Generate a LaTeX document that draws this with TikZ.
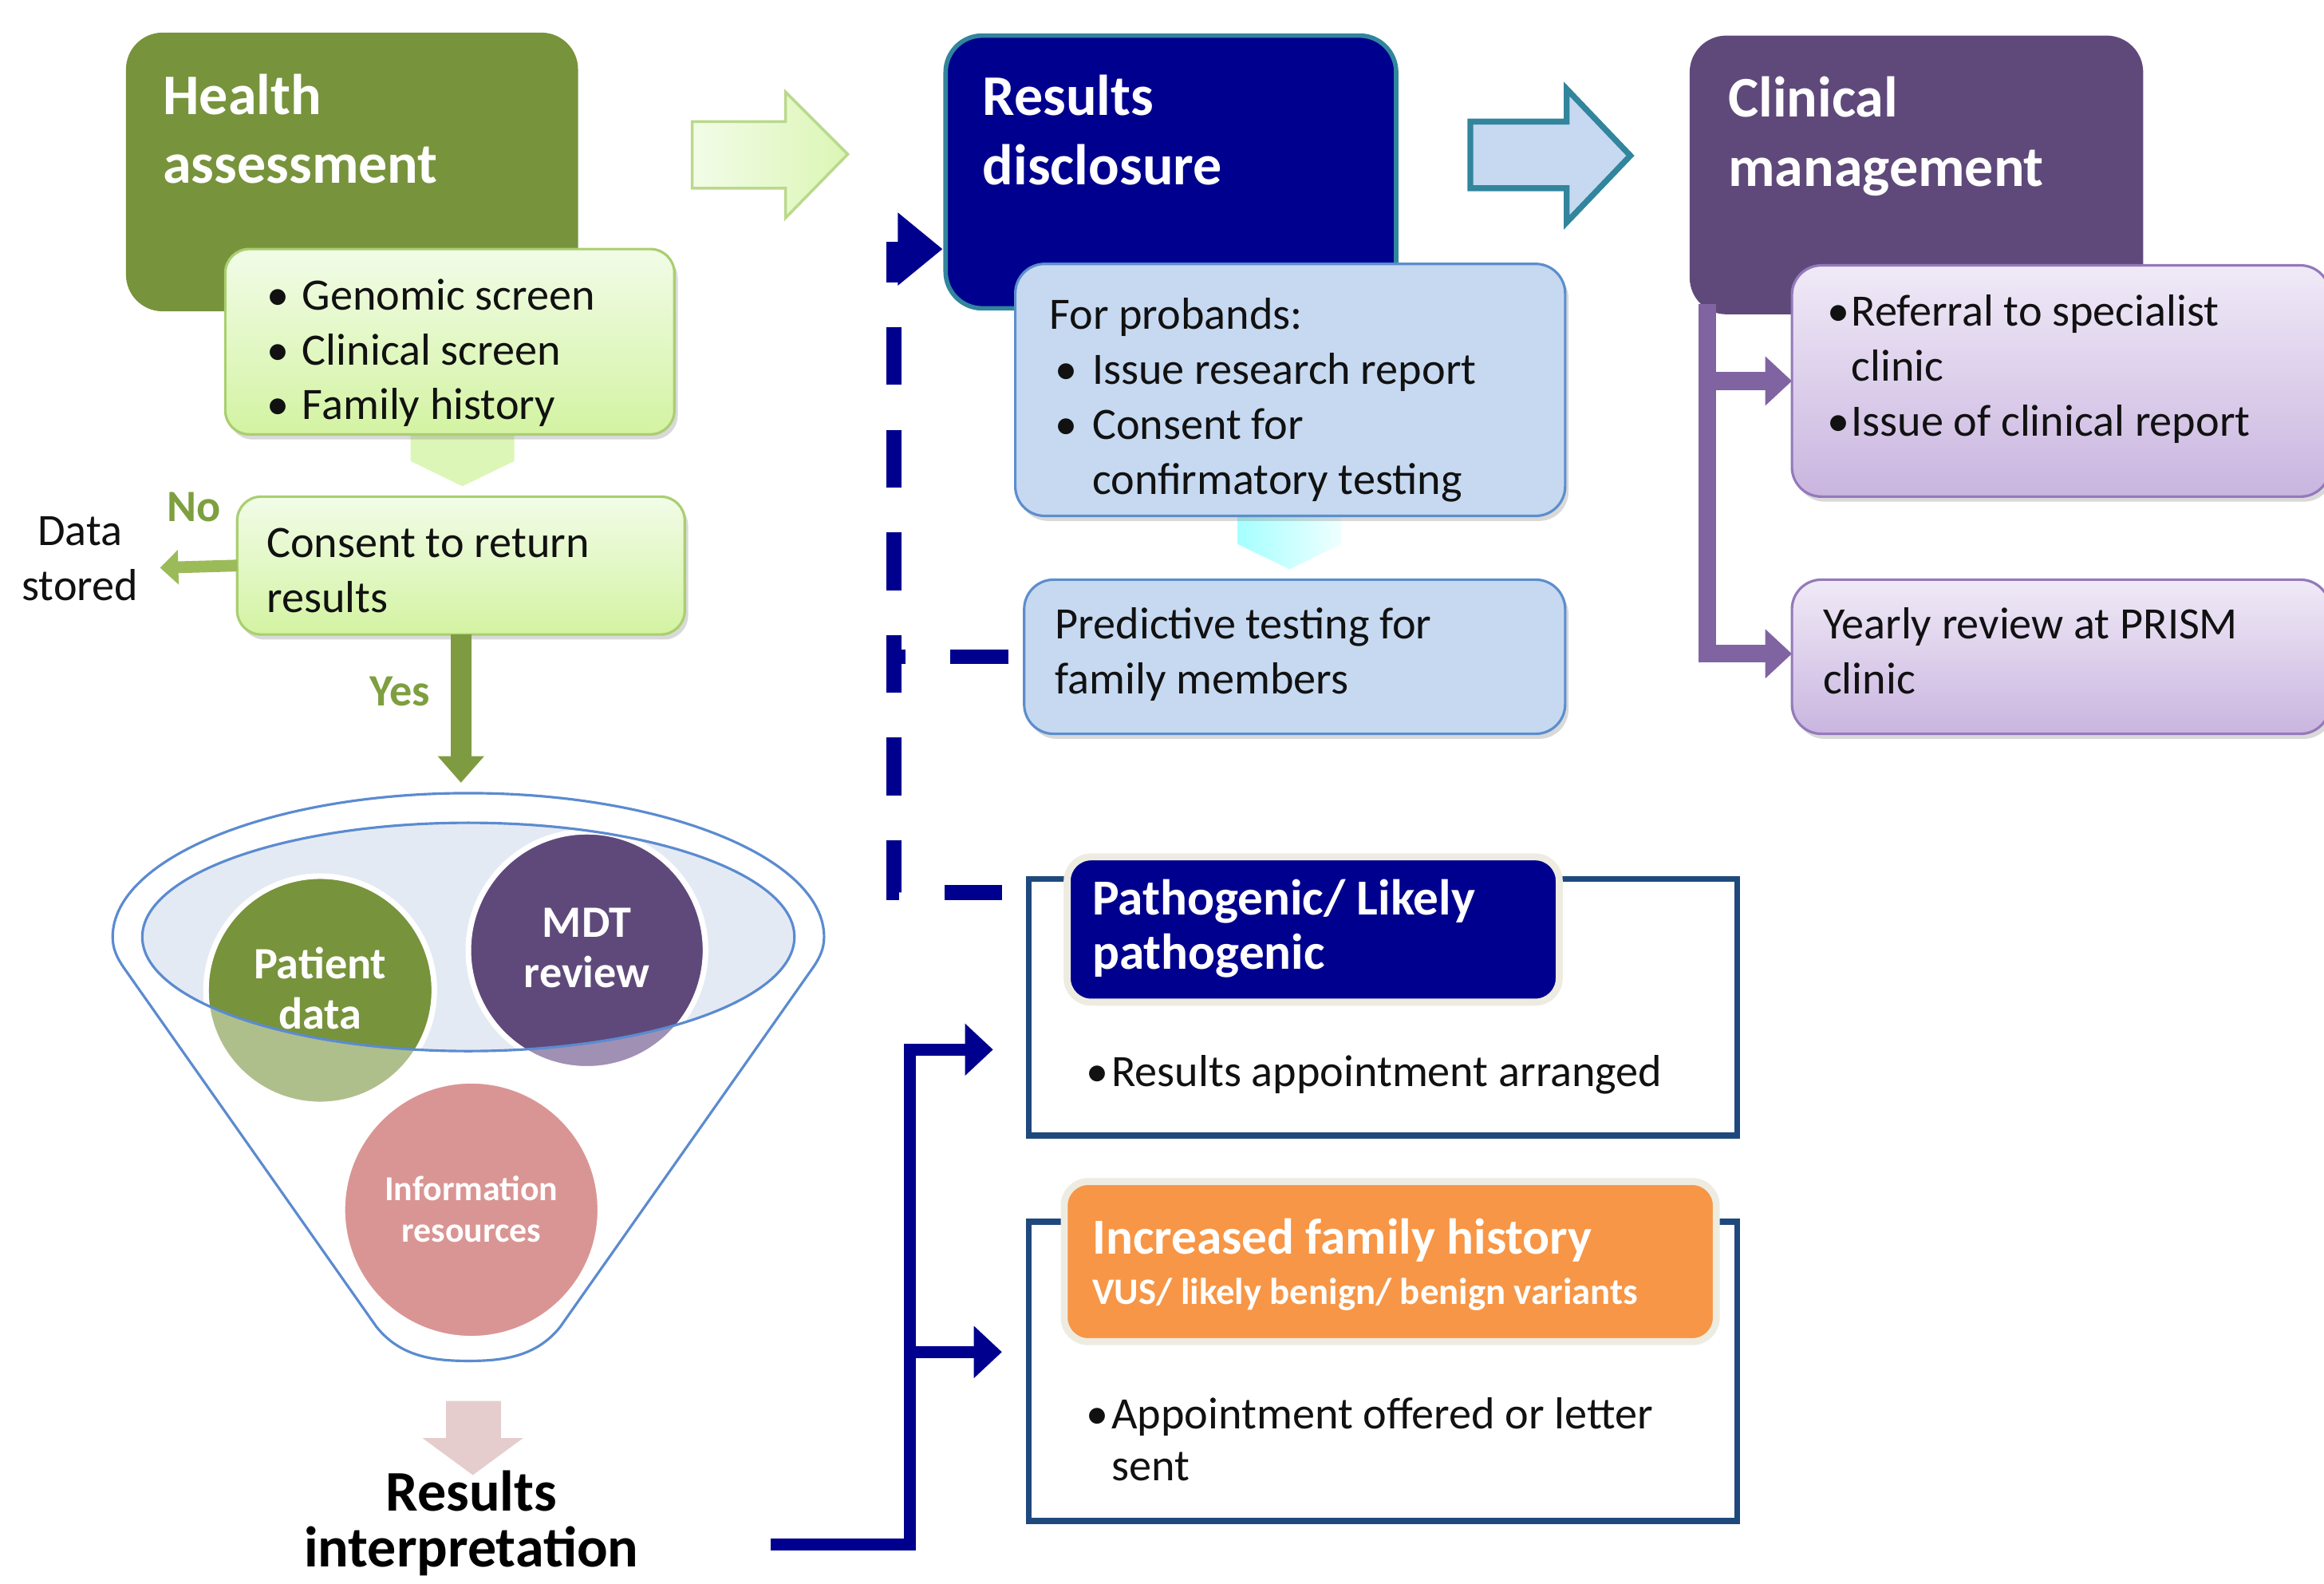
\documentclass[tikz,border=0pt]{standalone}
\usepackage{fontspec}
\setmainfont{Carlito}
\usetikzlibrary{arrows.meta,shadows}
\definecolor{olive}{HTML}{77933C}
\definecolor{olivelt}{HTML}{AEBF8C}
\definecolor{navy}{HTML}{00008E}
\definecolor{tealb}{HTML}{31859C}
\definecolor{purp}{HTML}{5F497A}
\definecolor{purplt}{HTML}{A090B4}
\definecolor{pconc}{HTML}{8064A2}
\definecolor{pbord}{HTML}{9479BA}
\definecolor{ptop}{HTML}{F0EAF7}
\definecolor{pbot}{HTML}{C9B5DF}
\definecolor{bfill}{HTML}{C6D9F1}
\definecolor{bbord}{HTML}{5C8ECD}
\definecolor{gtop}{HTML}{F2FCE8}
\definecolor{gbot}{HTML}{D3F3A2}
\definecolor{gbord}{HTML}{A9CF6F}
\definecolor{garr}{HTML}{9BBB59}
\definecolor{gtxt}{HTML}{7E9F3F}
\definecolor{orng}{HTML}{F79646}
\definecolor{outl}{HTML}{1F497D}
\definecolor{beig}{HTML}{EEECE1}
\definecolor{pink}{HTML}{D99594}
\definecolor{pinklt}{HTML}{E6CDCD}
\definecolor{fblue}{HTML}{5B8BD0}
\definecolor{ellf}{HTML}{E4EAF4}
\definecolor{txtc}{HTML}{111111}
\newcommand\tlines[1]{\begin{tabular}[t]{@{}l@{}}#1\end{tabular}}
\newcommand\tcent[1]{\begin{tabular}[t]{@{}c@{}}#1\end{tabular}}
\newcommand\mybul[2]{\makebox[#1][l]{\textbullet}#2}
\def\uu{0.018578cm}
\begin{document}
\begin{tikzpicture}[x=0.018578cm,y=-0.018578cm,
  txt/.style={inner sep=0pt, outer sep=0pt, anchor=base west, text=txtc, font=\fontsize{16}{19.6}\selectfont},
  ctxt/.style={txt, anchor=base},
  ttl/.style={txt, text=white, font=\bfseries\fontsize{20.5}{24.6}\selectfont},
  bigbox/.style={rounded corners=0.46cm, inner sep=0pt, outer sep=0pt},
  shadowed/.style={drop shadow={shadow xshift=1.2pt, shadow yshift=-1.8pt, opacity=0.3}},
  gbox/.style={draw=gbord, line width=0.9pt, rounded corners=0.3cm, top color=gtop, bottom color=gbot, inner sep=0pt, outer sep=0pt, shadowed},
  bbox/.style={draw=bbord, line width=0.9pt, rounded corners=0.37cm, fill=bfill, inner sep=0pt, outer sep=0pt, shadowed},
  pbox/.style={draw=pbord, line width=0.9pt, rounded corners=0.37cm, top color=ptop, bottom color=pbot, inner sep=0pt, outer sep=0pt, shadowed},
  obox/.style={draw=outl, line width=2.1pt, fill=white, inner sep=0pt, outer sep=0pt},
  hbox/.style={draw=beig, line width=2.5pt, rounded corners=0.3cm, inner sep=0pt, outer sep=0pt},
  circ/.style={circle, draw=white, line width=2pt, inner sep=0pt, outer sep=0pt},
  dnav/.style={draw=navy, line width=5.3pt, dash pattern=on 20.6pt off 16pt, -{Triangle[length=16pt,width=25pt]}},
  solnav/.style={draw=navy, line width=4.2pt, line join=miter, -{Triangle[length=10pt,width=18pt]}},
  pconn/.style={draw=pconc, line width=6.3pt, line join=miter, -{Triangle[length=9.5pt,width=17pt]}},
  garrow/.style={draw=garr, line width=4.2pt, -{Triangle[length=6.5pt,width=12pt]}},
  yarrow/.style={draw=olive!80!garr, line width=7.4pt, -{Triangle[length=9.5pt,width=16pt]}}
]
\useasboundingbox (0,0) rectangle (1568,1068);

% ---------- funnel ----------
\filldraw[fill=white, draw=fblue, line width=0.9pt]
  (76,632) .. controls (76,579) and (183,535) .. (316,535)
  .. controls (449,535) and (556,579) .. (556,632)
  .. controls (556,640) and (553,646) .. (549,652) -- (378,895)
  .. controls (362,915) and (340,918) .. (316,918)
  .. controls (292,918) and (270,915) .. (254,895) -- (83,652)
  .. controls (79,646) and (76,640) .. (76,632) -- cycle;
\fill[ellf] (316,632) ellipse [x radius=220, y radius=77];
\node[circ, fill=olivelt, minimum size=154*\uu] (pd) at (216,668) {};
\node[circ, fill=purplt, minimum size=160*\uu] (mdt) at (396,641) {};
\begin{scope}
  \clip (316,632) ellipse [x radius=220, y radius=77];
  \fill[olive] (pd.center) circle [radius=75];
  \fill[purp] (mdt.center) circle [radius=78];
\end{scope}
\draw[fblue, line width=0.9pt] (316,632) ellipse [x radius=220, y radius=77];
\node[circ, fill=pink, minimum size=174*\uu] (info) at (318,816) {};
\node[ctxt, text=white, font=\bfseries\fontsize{16}{18}\selectfont] (tpd) at (216,660) {\tcent{Patient\\data}};
\node[ctxt, text=white, font=\bfseries\fontsize{16}{18}\selectfont] (tmdt) at (396,632) {\tcent{MDT\\review}};
\node[ctxt, text=white, font=\bfseries\fontsize{12.5}{14.8}\selectfont] (tinfo) at (318,810) {\tcent{Information\\resources}};

% pink arrow
\fill[pinklt] (301,945) -- (338,945) -- (338,970) -- (353,970) -- (319,995) -- (285,970) -- (301,970) -- cycle;
\node[ctxt, text=black, font=\bfseries\fontsize{20.5}{18.5}\selectfont] (tri) at (318,1019) {\tcent{Results\\interpretation}};

% ---------- health assessment ----------
\node[bigbox, fill=olive, minimum width=305*\uu, minimum height=188*\uu] (health) at (237.5,116) {};
\node[ttl] (thealth) at (110,77) {\tlines{Health\\assessment}};
\fill[gbot!70!gtop] (277,288) -- (277,311) -- (312,328) -- (347,311) -- (347,288) -- cycle;
\node[gbox, minimum width=303*\uu, minimum height=125*\uu] (glist) at (303.5,230.5) {};
\node[txt] (tglist) at (180,209) {\tlines{\mybul{12.7pt}{Genomic screen}\\\mybul{12.7pt}{Clinical screen}\\\mybul{12.7pt}{Family history}}};
\node[gbox, minimum width=302*\uu, minimum height=93*\uu] (consent) at (311,381.5) {};
\node[txt] (tconsent) at (180,376) {\tlines{Consent to return\\results}};
\node[ctxt] (tds) at (54,368) {\tcent{Data\\stored}};
\node[ctxt, text=gtxt, font=\bfseries\fontsize{16}{19.6}\selectfont] (tno) at (131,352) {No};
\node[ctxt, text=gtxt, font=\bfseries\fontsize{16}{19.6}\selectfont] (tyes) at (270,476) {Yes};
\coordinate (noend) at (108,383);
\coordinate (yesend) at (311,528);
\draw[garrow] (consent.west) -- (noend);
\draw[yarrow] (consent.south) -- (yesend);

% big green arrow
\shadedraw[left color=gtop, right color=gbot!80!white, draw=gbord!80!white, line width=1pt]
  (467,82) -- (530,82) -- (530,62) -- (572,104) -- (530,147) -- (530,127) -- (467,127) -- cycle;

% ---------- results disclosure ----------
\node[bigbox, fill=navy, draw=tealb, line width=1.6pt, minimum width=304*\uu, minimum height=184*\uu] (rdisc) at (790,116) {};
\node[ttl] (trdisc) at (663,78) {\tlines{Results\\disclosure}};
\shade[left color=cyan!35, right color=cyan!6] (835,343) -- (835,367) -- (870,384) -- (905,367) -- (905,343) -- cycle;
\node[bbox, minimum width=371*\uu, minimum height=170*\uu] (blist) at (870.5,263) {};
\node[txt] (tblist) at (708,222) {\tlines{For probands:\\\hspace{2pt}\mybul{13.3pt}{Issue research report}\\\hspace{2pt}\mybul{13.3pt}{Consent for}\\\hspace{15.3pt}confirmatory testing}};
\node[bbox, minimum width=365*\uu, minimum height=104*\uu] (pred) at (873.5,443) {};
\node[txt] (tpred) at (712,431) {\tlines{Predictive testing for\\family members}};

% big blue arrow
\filldraw[fill=bfill, draw=tealb, line width=2.1pt]
  (992,82) -- (1057,82) -- (1057,60) -- (1100,105) -- (1057,150) -- (1057,127) -- (992,127) -- cycle;

% ---------- clinical management ----------
\coordinate (pv) at (1152,205);
\node[bigbox, fill=purp, minimum width=306*\uu, minimum height=188*\uu] (clin) at (1293,118) {};
\node[ttl] (tclin) at (1166,79) {\tlines{Clinical\\management}};
\draw[pconn] (pv) |- (1209,441);
\draw[pconn] (pv |- 0,257) -- (1209,257);
\node[pbox, minimum width=363*\uu, minimum height=156*\uu] (plist) at (1390.5,257) {};
\node[txt] (tplist) at (1233,220) {\tlines{\mybul{8.5pt}{Referral to specialist}\\\hspace{8.5pt}clinic\\\mybul{8.5pt}{Issue of clinical report}}};
\node[pbox, minimum width=363*\uu, minimum height=104*\uu] (yearly) at (1390.5,443) {};
\node[txt] (tyearly) at (1230,431) {\tlines{Yearly review at PRISM\\clinic}};

% ---------- outcome boxes ----------
\node[obox, minimum width=478*\uu, minimum height=173*\uu] (pathobox) at (933,679.5) {};
\node[hbox, fill=navy, minimum width=332*\uu, minimum height=98*\uu] (pathohead) at (886,627) {};
\node[txt, text=white, font=\bfseries\fontsize{18}{19.4}\selectfont] (tpatho) at (737,617) {\tlines{Pathogenic/ Likely\\pathogenic}};
\node[txt] (tpathob) at (733,733) {\mybul{9pt}{Results appointment arranged}};

\node[obox, minimum width=478*\uu, minimum height=202*\uu] (incbox) at (933,925) {};
\node[hbox, fill=orng, minimum width=440*\uu, minimum height=108*\uu] (inchead) at (938,851) {};
\node[txt, text=white, font=\bfseries\fontsize{18}{19.4}\selectfont] (tinc) at (737,846) {Increased family history};
\node[txt, text=white, font=\bfseries\fontsize{13.3}{16}\selectfont] (tvus) at (737,880) {VUS/ likely benign/ benign variants};
\node[txt, font=\fontsize{16}{18.5}\selectfont] (tincb) at (733,964) {\tlines{\mybul{9pt}{Appointment offered or letter}\\\hspace{9pt}sent}};

% ---------- navy connectors ----------
\coordinate (dA) at (676,602);
\coordinate (dV) at (603,168);
\coordinate (dT) at (636,168);
\draw[dnav] (dA) -| (dV) -- (dT);
\draw[dnav, -, shorten <=0.2cm] (pred.west) -- (pred.west -| dV);

\coordinate (sA) at (520,1042);
\coordinate (sB) at (614,708);
\coordinate (sC) at (670,708);
\coordinate (sD) at (614,912);
\coordinate (sE) at (676,912);
\draw[solnav] (sA) -| (sB) -- (sC);
\draw[solnav] (sD) -- (sE);
\end{tikzpicture}
\end{document}
